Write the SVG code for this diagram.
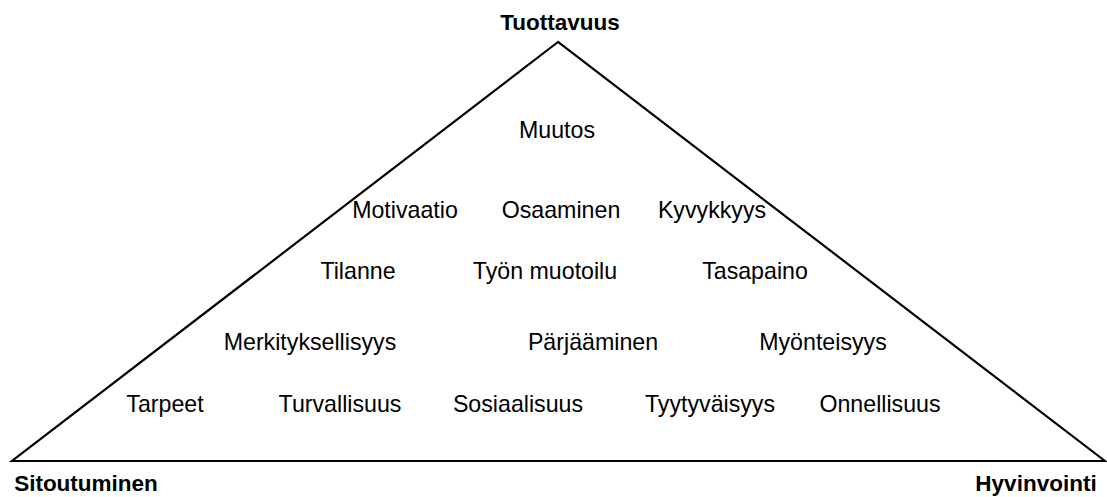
<svg xmlns="http://www.w3.org/2000/svg" width="1107" height="497" viewBox="0 0 1107 497">
<style>
text{font-family:"Liberation Sans",Arial,sans-serif;font-size:23.2px;fill:#000;text-anchor:middle}
.b{font-weight:bold;font-size:22.5px}
.edge{fill:none;stroke:#000;stroke-width:2.2}
</style>
<rect width="1107" height="497" fill="#fff"/>
<g id="connectors">
<path class="edge" d="M558,42 L12,461 L1105,461 Z"/>
</g>
<g id="apex-tuottavuus"><text class="b" x="560" y="30">Tuottavuus</text></g>
<g id="corner-sitoutuminen"><text class="b" x="86" y="491">Sitoutuminen</text></g>
<g id="corner-hyvinvointi"><text class="b" x="1036" y="491">Hyvinvointi</text></g>
<g id="muutos"><text x="557" y="138">Muutos</text></g>
<g id="motivaatio"><text x="405" y="218">Motivaatio</text></g>
<g id="osaaminen"><text x="561" y="218">Osaaminen</text></g>
<g id="kyvykkyys"><text x="712" y="218">Kyvykkyys</text></g>
<g id="tilanne"><text x="358" y="279">Tilanne</text></g>
<g id="tyon-muotoilu"><text x="545" y="279">Työn muotoilu</text></g>
<g id="tasapaino"><text x="755" y="279">Tasapaino</text></g>
<g id="merkityksellisyys"><text x="310" y="350">Merkityksellisyys</text></g>
<g id="parjaaminen"><text x="593" y="350">Pärjääminen</text></g>
<g id="myonteisyys"><text x="823" y="350">Myönteisyys</text></g>
<g id="tarpeet"><text x="165" y="412">Tarpeet</text></g>
<g id="turvallisuus"><text x="340" y="412">Turvallisuus</text></g>
<g id="sosiaalisuus"><text x="518" y="412">Sosiaalisuus</text></g>
<g id="tyytyvaisyys"><text x="710" y="412">Tyytyväisyys</text></g>
<g id="onnellisuus"><text x="880" y="412">Onnellisuus</text></g>
</svg>
